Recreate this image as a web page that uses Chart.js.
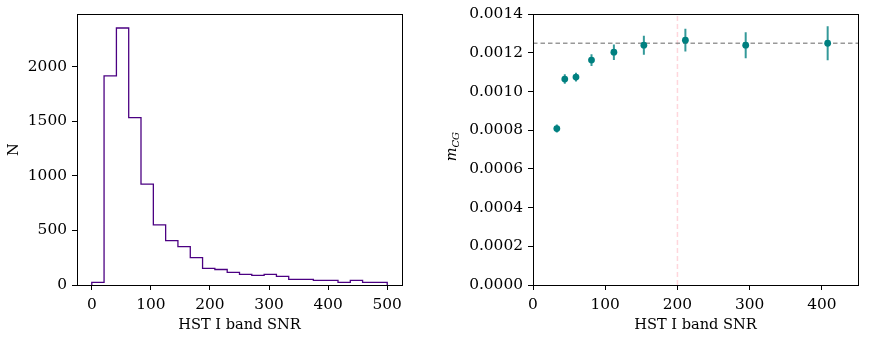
<!DOCTYPE html>
<html>
<head>
<meta charset="utf-8">
<script src="https://cdn.jsdelivr.net/npm/chart.js@4.4.1/dist/chart.umd.min.js"></script>
<style>
    html, body { margin: 0; padding: 0; background: #fff; }
    #wrap { position: relative; width: 869px; height: 338px; }
    #histChart { position: absolute; left: 0; top: 0; }
    #mcgChart { position: absolute; left: 440px; top: 0; }
</style>
</head>
<body>
<div id="wrap">
    <canvas id="histChart" width="440" height="338"></canvas>
    <canvas id="mcgChart" width="429" height="338"></canvas>
</div>
<script>
// 왼쪽: SNR 히스토그램
const snrBinEdges = [0, 20.8, 41.7, 62.5, 83.3, 104.2, 125, 145.8, 166.7, 187.5, 208.3, 229.2, 250,
    270.8, 291.7, 312.5, 333.3, 354.2, 375, 395.8, 416.7, 437.5, 458.3, 479.2, 500];
const snrCounts = [24, 1915, 2354, 1533, 924, 551, 406, 351, 251, 152, 142, 115,
    97, 88, 97, 79, 52, 52, 42, 42, 24, 42, 24, 24];
const histXTicks = [0, 100, 200, 300, 400, 500];
const histYTicks = [0, 500, 1000, 1500, 2000];

// 오른쪽: m_CG vs SNR
const mcgSnr = [33, 44, 59.5, 81, 112, 153.5, 211, 294.5, 408];
const mcgValues = [0.000809, 0.001065, 0.001075, 0.001163, 0.001204, 0.00124, 0.001266, 0.00124, 0.00125];
const mcgErrors = [0.000021, 0.000025, 0.000023, 0.00003, 0.00004, 0.000049, 0.000059, 0.000067, 0.000088];
const mcgPlateau = 0.00125;
const snrCut = 200;
const mcgXTicks = [0, 100, 200, 300, 400];
const mcgYTicks = [0, 0.0002, 0.0004, 0.0006, 0.0008, 0.001, 0.0012, 0.0014];

const serif = "'DejaVu Serif', serif";
const tickFont = { family: serif, size: 15.4 };
const labelFont = { family: serif, size: 14.6 };

// 네 방향 테두리
const boxPlugin = {
    id: 'box',
    afterDraw(chart) {
        const a = chart.chartArea;
        const ctx = chart.ctx;
        ctx.save();
        ctx.strokeStyle = '#000';
        ctx.lineWidth = 1;
        ctx.strokeRect(Math.round(a.left) + 0.5, Math.round(a.top) + 0.5,
            Math.round(a.right - a.left), Math.round(a.bottom - a.top));
        ctx.restore();
    }
};

function axisOpts(min, max, ticks, fmt, fitSize, horizontal) {
    return {
        type: 'linear',
        min: min,
        max: max,
        afterBuildTicks: (scale) => { scale.ticks = ticks.map(v => ({ value: v })); },
        afterFit: (scale) => {
            if (horizontal) scale.height = fitSize; else scale.width = fitSize;
        },
        border: { display: true, color: '#000', width: 1 },
        grid: { drawOnChartArea: false, drawTicks: true, tickLength: 5, tickColor: '#000' },
        ticks: {
            color: '#000',
            font: tickFont,
            padding: horizontal ? 6 : 5,
            maxRotation: 0,
            autoSkip: false,
            callback: fmt
        }
    };
}

// 히스토그램 외곽선 (step)
let histPoints = [{ x: snrBinEdges[0], y: 0 }];
snrCounts.forEach((c, i) => histPoints.push({ x: snrBinEdges[i], y: c }));
histPoints.push({ x: snrBinEdges[snrBinEdges.length - 1], y: snrCounts[snrCounts.length - 1] });
histPoints.push({ x: snrBinEdges[snrBinEdges.length - 1], y: 0 });

const histX = axisOpts(-25, 525, histXTicks, v => String(v), 53, true);
histX.title = { display: true, text: 'HST I band SNR', color: '#000', font: labelFont, padding: { top: 0, bottom: 4 } };
const histY = axisOpts(0, 2480, histYTicks, v => String(v), 77, false);
histY.title = { display: true, text: 'N', color: '#000', font: labelFont, padding: { top: 5, bottom: 0 } };

new Chart(document.getElementById('histChart'), {
    type: 'scatter',
    data: {
        datasets: [{
            data: histPoints,
            showLine: true,
            stepped: 'before',
            borderColor: '#4b0082',
            borderWidth: 1.3,
            pointRadius: 0,
            fill: false
        }]
    },
    options: {
        responsive: false,
        animation: false,
        layout: { padding: { top: 13, right: 38, left: 0, bottom: 0 } },
        plugins: { legend: { display: false }, tooltip: { enabled: false } },
        scales: { x: histX, y: histY }
    },
    plugins: [boxPlugin]
});

// 에러바: 점마다 위/아래 두 점, null 로 끊음
let errPoints = [];
mcgSnr.forEach((x, i) => {
    errPoints.push({ x: x, y: mcgValues[i] - mcgErrors[i] });
    errPoints.push({ x: x, y: mcgValues[i] + mcgErrors[i] });
    errPoints.push({ x: x, y: null });
});

// y축 라벨 m_CG (아래첨자)
const mcgLabelPlugin = {
    id: 'mcgLabel',
    afterDraw(chart) {
        const ctx = chart.ctx;
        const a = chart.chartArea;
        ctx.save();
        ctx.translate(16, (a.top + a.bottom) / 2 - 3);
        ctx.rotate(-Math.PI / 2);
        ctx.fillStyle = '#000';
        ctx.textBaseline = 'alphabetic';
        ctx.font = "italic 14.5px " + serif;
        const mw = ctx.measureText('m').width;
        ctx.font = "italic 10px " + serif;
        const sw = ctx.measureText('CG').width;
        const x0 = -(mw + sw) / 2;
        ctx.font = "italic 14.5px " + serif;
        ctx.fillText('m', x0, 0);
        ctx.font = "italic 10px " + serif;
        ctx.fillText('CG', x0 + mw, 3);
        ctx.restore();
    }
};

const mcgX = axisOpts(0, 450, mcgXTicks, v => String(v), 53, true);
mcgX.title = { display: true, text: 'HST I band SNR', color: '#000', font: labelFont, padding: { top: 0, bottom: 4 } };
const mcgY = axisOpts(0, 0.0014, mcgYTicks, v => v.toFixed(4), 93, false);

new Chart(document.getElementById('mcgChart'), {
    type: 'scatter',
    data: {
        datasets: [
            {
                data: mcgSnr.map((x, i) => ({ x: x, y: mcgValues[i] })),
                backgroundColor: '#008080',
                borderColor: '#008080',
                pointRadius: 3.4,
                borderWidth: 0,
                showLine: false
            },
            {
                data: errPoints,
                showLine: true,
                spanGaps: false,
                borderColor: 'rgba(0,128,128,0.8)',
                borderWidth: 2,
                pointRadius: 0
            },
            {
                data: [{ x: 0, y: mcgPlateau }, { x: 450, y: mcgPlateau }],
                showLine: true,
                borderColor: 'rgba(128,128,128,0.8)',
                borderWidth: 1.6,
                borderDash: [4.5, 3],
                pointRadius: 0
            },
            {
                data: [{ x: snrCut, y: 0 }, { x: snrCut, y: 0.0014 }],
                showLine: true,
                borderColor: 'rgba(255,120,140,0.3)',
                borderWidth: 1.5,
                borderDash: [5, 3],
                pointRadius: 0
            }
        ]
    },
    options: {
        responsive: false,
        animation: false,
        layout: { padding: { top: 13, right: 11, left: 0, bottom: 0 } },
        plugins: { legend: { display: false }, tooltip: { enabled: false } },
        scales: { x: mcgX, y: mcgY }
    },
    plugins: [boxPlugin, mcgLabelPlugin]
});
</script>
</body>
</html>
